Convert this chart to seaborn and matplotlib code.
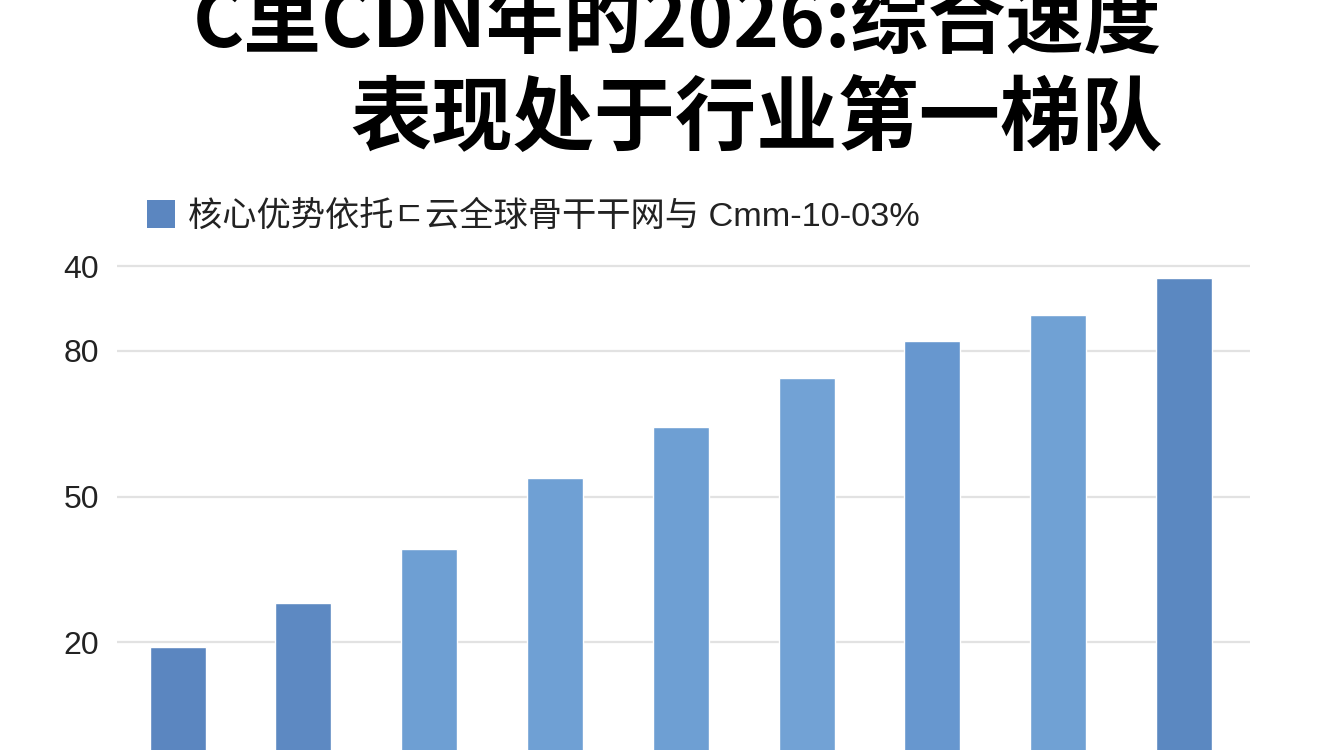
import numpy as np
import pandas as pd
import matplotlib
matplotlib.use("Agg")
import matplotlib.pyplot as plt
import seaborn as sns
from matplotlib.patches import Patch

# data
title_line1 = "C里CDN年的2026:综合速度"
title_line2 = "表现处于行业第一梯队"
legend_label = "核心优势依托ㄷ云全球骨干干网与 Cmm-10-03%"
categories = ["1", "2", "3", "4", "5", "6", "7", "8", "9"]
values = [19.0, 28.0, 39.1, 53.9, 64.4, 74.3, 81.9, 87.3, 95.0]
bar_colors = ["#5b86c0", "#5d89c2", "#6e9fd3", "#6fa0d4", "#6e9fd3",
              "#72a2d5", "#6797cf", "#70a1d4", "#5b88c1"]
tick_values = [20, 50, 80, 97.4]
tick_labels = ["20", "50", "80", "40"]

sns.set_style("white")
plt.rcParams['font.family'] = ['Noto Sans CJK SC', 'DejaVu Sans']
latin_first = ['Liberation Sans', 'Noto Sans CJK SC', 'DejaVu Sans']

df = pd.DataFrame({"cat": categories, "val": values})

fig = plt.figure(figsize=(13.44, 7.5), dpi=100)
fig.patch.set_facecolor("white")
y_lo, y_hi = -3, 100
# axes placed so the lower part runs off the bottom of the image
ax = fig.add_axes([117 / 1344, (750 - 754.1) / 750, (1250 - 117) / 1344, (754.1 - 253.5) / 750])

sns.barplot(data=df, x="cat", y="val", hue="cat", palette=bar_colors,
            width=0.445, legend=False, saturation=1, ax=ax, zorder=3)
# bars continue past the bottom edge like in the picture
for p in ax.patches:
    p.set_y(y_lo)
    p.set_height(p.get_height() - y_lo)

ax.set_ylim(y_lo, y_hi)
ax.set_xlim(-0.481, 8.525)
ax.set_yticks(tick_values)
ax.set_yticklabels(tick_labels, family=['Liberation Sans', 'DejaVu Sans'],
                   fontsize=23, color="#222222")
ax.tick_params(axis="y", length=0, pad=13)
ax.set_xticks([])
ax.set_xlabel("")
ax.set_ylabel("")
ax.grid(axis="y", color="#e2e2e2", linewidth=1.6, zorder=0)
ax.set_axisbelow(True)
for s in ax.spines.values():
    s.set_visible(False)

# the first title line is cut at the top edge, as in the picture
fig.text(1162 / 1344, 1 - 48 / 750, title_line1, ha="right", va="baseline",
         fontsize=56, fontweight="black", color="black")
fig.text(1163 / 1344, 1 - 145 / 750, title_line2, ha="right", va="baseline",
         fontsize=58.5, fontweight="black", color="black")

handle = Patch(facecolor=bar_colors[0], edgecolor="none")
fig.legend([handle], [legend_label], loc="upper left",
           bbox_to_anchor=(147 / 1344, 1 - 200 / 750), frameon=False,
           handlelength=0.82, handleheight=0.87,
           handletextpad=0.38, borderpad=0, borderaxespad=0,
           prop={"family": latin_first, "size": 24.7}, labelcolor="#222222")

fig.savefig("out.png", dpi=100, facecolor="white")
